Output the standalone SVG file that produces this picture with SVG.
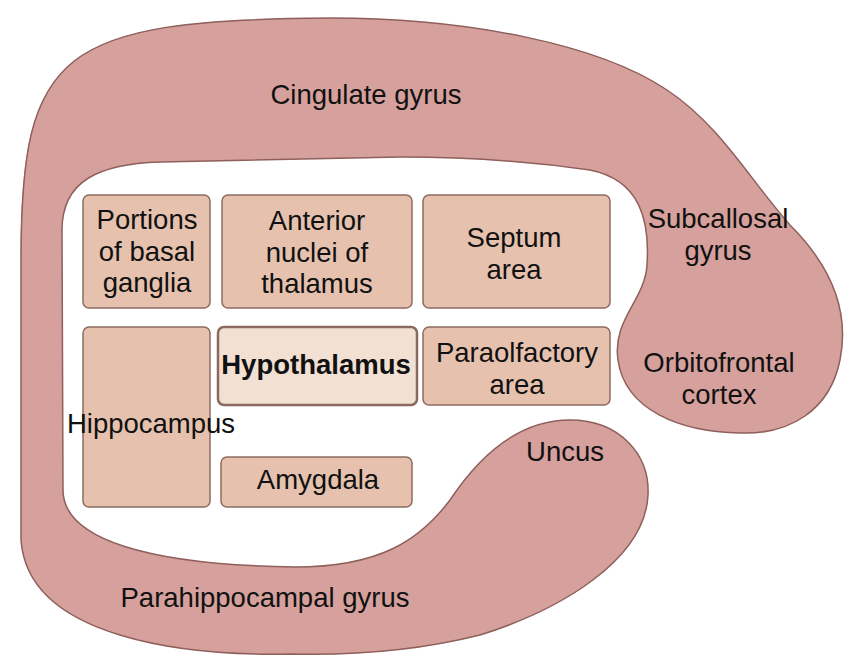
<svg xmlns="http://www.w3.org/2000/svg" width="861" height="671" viewBox="0 0 861 671">
<style>
.lobe{fill:#d6a19d;stroke:#8e5f5b;stroke-width:1.5}
.box{fill:#e6c1ae;stroke:#8c6c60;stroke-width:1.5}
.hyp{fill:#f2e0d2;stroke:#8a6a5f;stroke-width:2.5}
text{font-family:"Liberation Sans",Arial,sans-serif;font-size:27.5px;fill:#111;text-anchor:middle}
.b{font-weight:bold}
</style>
<rect width="861" height="671" fill="#fff"/>
<g id="limbic-lobe">
<path class="lobe" d="M 21,540 L 21,260 C 21,50 60,20 330,18 C 470,18 600,45 667,90 C 720,125 750,180 790,225 C 830,265 850,310 840,360 C 830,410 790,435 740,433 C 680,432 625,410 618,360 C 612,320 645,300 647,265 C 650,220 640,180 590,170 C 520,160 450,157 400,157 L 160,162 C 100,164 62,180 62,230 L 63,490 C 63,540 150,565 295,567 C 380,567 420,540 450,500 C 480,455 520,420 570,420 C 620,420 650,455 648,495 C 645,560 560,610 480,635 C 400,655 330,655 290,654 C 190,656 28,640 21,540 Z"/>
<text x="366" y="104">Cingulate gyrus</text>
<text x="718" y="228">Subcallosal</text>
<text x="718" y="260">gyrus</text>
<text x="719" y="372">Orbitofrontal</text>
<text x="719" y="404">cortex</text>
<text x="565" y="461">Uncus</text>
<text x="265" y="607">Parahippocampal gyrus</text>
</g>
<g id="basal-ganglia">
<rect class="box" x="83" y="195" width="127" height="113" rx="6"/>
<text x="147" y="229">Portions</text>
<text x="147" y="261">of basal</text>
<text x="147" y="292">ganglia</text>
</g>
<g id="anterior-nuclei">
<rect class="box" x="222" y="195" width="190" height="113" rx="6"/>
<text x="317" y="230">Anterior</text>
<text x="317" y="262">nuclei of</text>
<text x="317" y="293">thalamus</text>
</g>
<g id="septum">
<rect class="box" x="423" y="195" width="187" height="113" rx="6"/>
<text x="514" y="247">Septum</text>
<text x="514" y="279">area</text>
</g>
<g id="hippocampus">
<rect class="box" x="83" y="327" width="127" height="180" rx="6"/>
<text x="151" y="433">Hippocampus</text>
</g>
<g id="hypothalamus">
<rect class="hyp" x="218" y="327" width="199" height="78" rx="6"/>
<text class="b" x="316" y="374">Hypothalamus</text>
</g>
<g id="paraolfactory">
<rect class="box" x="423" y="327" width="187" height="78" rx="6"/>
<text x="517" y="362">Paraolfactory</text>
<text x="517" y="394">area</text>
</g>
<g id="amygdala">
<rect class="box" x="221" y="457" width="191" height="50" rx="6"/>
<text x="318" y="489">Amygdala</text>
</g>
<g id="connectors"></g>
</svg>
